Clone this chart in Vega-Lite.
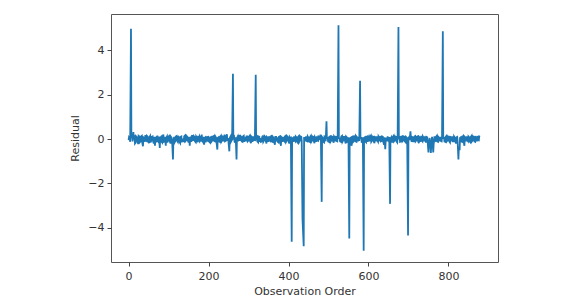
{
"$schema": "https://vega.github.io/schema/vega-lite/v6.json",
"width": 387, "height": 248,
"autosize": "none",
"padding": {"left": 111, "top": 14, "right": 76, "bottom": 43},
"background": "white",
"config": {"view": {"stroke": "#555", "strokeWidth": 1}, "font": "DejaVu Sans"},
"datasets": {
"main": [
{"i":0,"r":-0.05},{"i":3,"r":0.02},{"i":6,"r":4.98},{"i":9,"r":0.05},{"i":12,"r":0.32},{"i":15,"r":0.1},{"i":18,"r":-0.15},{"i":21,"r":0.08},{"i":24,"r":-0.22},{"i":27,"r":0.12},
{"i":30,"r":-0.1},{"i":33,"r":0.15},{"i":36,"r":-0.32},{"i":39,"r":0.05},{"i":42,"r":0.18},{"i":45,"r":-0.08},{"i":48,"r":0.1},{"i":51,"r":-0.18},{"i":54,"r":0.14},{"i":57,"r":-0.05},
{"i":60,"r":0.12},{"i":63,"r":-0.2},{"i":66,"r":-0.3},{"i":69,"r":0.08},{"i":72,"r":0.16},{"i":75,"r":-0.12},{"i":78,"r":-0.4},{"i":81,"r":0.1},{"i":84,"r":-0.15},{"i":87,"r":0.2},
{"i":90,"r":-0.1},{"i":93,"r":-0.3},{"i":96,"r":0.12},{"i":99,"r":-0.05},{"i":102,"r":0.15},{"i":105,"r":-0.2},{"i":108,"r":0.05},{"i":111,"r":-0.92},{"i":114,"r":0.1},{"i":117,"r":-0.08},
{"i":120,"r":0.14},{"i":123,"r":-0.12},{"i":126,"r":0.06},{"i":129,"r":-0.18},{"i":132,"r":0.12},{"i":135,"r":0.02},{"i":138,"r":-0.1},{"i":141,"r":0.16},{"i":144,"r":-0.06},{"i":147,"r":0.1},
{"i":150,"r":-0.15},{"i":153,"r":-0.3},{"i":156,"r":0.08},{"i":159,"r":0.18},{"i":162,"r":-0.05},{"i":165,"r":0.1},{"i":168,"r":-0.14},{"i":171,"r":0.06},{"i":174,"r":0.15},{"i":177,"r":-0.1},
{"i":180,"r":0.05},{"i":183,"r":0.2},{"i":186,"r":-0.12},{"i":189,"r":-0.25},{"i":192,"r":0.08},{"i":195,"r":0.12},{"i":198,"r":-0.08},{"i":201,"r":0.04},{"i":204,"r":-0.16},{"i":207,"r":0.1},
{"i":210,"r":-0.05},{"i":213,"r":0.14},{"i":216,"r":-0.1},{"i":219,"r":0.06},{"i":222,"r":-0.47},{"i":225,"r":0.08},{"i":228,"r":-0.12},{"i":231,"r":0.15},{"i":234,"r":-0.06},{"i":237,"r":0.1},
{"i":240,"r":0.2},{"i":243,"r":-0.08},{"i":246,"r":0.22},{"i":249,"r":0.05},{"i":252,"r":-0.55},{"i":255,"r":0.12},{"i":258,"r":-0.05},{"i":261,"r":2.95},{"i":264,"r":0.1},{"i":267,"r":-0.15},
{"i":270,"r":-0.92},{"i":273,"r":0.12},{"i":276,"r":0.18},{"i":279,"r":-0.05},{"i":282,"r":0.1},{"i":285,"r":-0.12},{"i":288,"r":0.15},{"i":291,"r":0.02},{"i":294,"r":-0.1},{"i":297,"r":0.12},
{"i":300,"r":-0.06},{"i":303,"r":0.15},{"i":306,"r":-0.18},{"i":309,"r":0.08},{"i":312,"r":0.12},{"i":315,"r":-0.04},{"i":318,"r":2.9},{"i":321,"r":0.08},{"i":324,"r":-0.14},{"i":327,"r":0.1},
{"i":330,"r":0.05},{"i":333,"r":-0.1},{"i":336,"r":0.16},{"i":339,"r":-0.05},{"i":342,"r":0.1},{"i":345,"r":-0.2},{"i":348,"r":0.06},{"i":351,"r":0.12},{"i":354,"r":-0.08},{"i":357,"r":0.14},
{"i":360,"r":-0.12},{"i":363,"r":0.05},{"i":366,"r":-0.25},{"i":369,"r":0.1},{"i":372,"r":0.08},{"i":375,"r":-0.15},{"i":378,"r":0.12},{"i":381,"r":-0.3},{"i":384,"r":0.06},{"i":387,"r":0.1},
{"i":390,"r":-0.1},{"i":393,"r":0.15},{"i":396,"r":-0.05},{"i":399,"r":0.08},{"i":402,"r":-0.2},{"i":405,"r":0.05},{"i":408,"r":-4.63},{"i":411,"r":0.02},{"i":414,"r":0.12},{"i":417,"r":-0.1},
{"i":420,"r":0.08},{"i":423,"r":-0.15},{"i":426,"r":0.14},{"i":429,"r":-0.05},{"i":432,"r":0.1},{"i":435,"r":-3.6},{"i":438,"r":-4.83},{"i":441,"r":0.05},{"i":444,"r":0.12},{"i":447,"r":-0.1},
{"i":450,"r":0.06},{"i":453,"r":-0.12},{"i":456,"r":0.15},{"i":459,"r":-0.06},{"i":462,"r":0.1},{"i":465,"r":-0.18},{"i":468,"r":0.04},{"i":471,"r":0.12},{"i":474,"r":-0.08},{"i":477,"r":0.1},
{"i":480,"r":0.2},{"i":483,"r":-2.83},{"i":486,"r":0.05},{"i":489,"r":-0.15},{"i":492,"r":0.1},{"i":495,"r":0.8},{"i":498,"r":0.05},{"i":501,"r":-0.12},{"i":504,"r":0.12},{"i":507,"r":-0.06},
{"i":510,"r":0.1},{"i":513,"r":-0.16},{"i":516,"r":0.06},{"i":519,"r":0.14},{"i":522,"r":-0.1},{"i":525,"r":5.13},{"i":528,"r":0.04},{"i":531,"r":-0.12},{"i":534,"r":0.15},{"i":537,"r":-0.05},
{"i":540,"r":0.1},{"i":543,"r":-0.2},{"i":546,"r":0.08},{"i":549,"r":-0.1},{"i":552,"r":-4.48},{"i":555,"r":0.05},{"i":558,"r":-0.3},{"i":561,"r":0.12},{"i":564,"r":-0.08},{"i":567,"r":0.15},
{"i":570,"r":-0.12},{"i":573,"r":0.06},{"i":576,"r":0.1},{"i":579,"r":2.63},{"i":582,"r":0.05},{"i":585,"r":-0.1},{"i":588,"r":-5.03},{"i":591,"r":0.08},{"i":594,"r":-0.14},{"i":597,"r":0.12},
{"i":600,"r":0.05},{"i":603,"r":-0.1},{"i":606,"r":0.16},{"i":609,"r":-0.06},{"i":612,"r":0.1},{"i":615,"r":-0.18},{"i":618,"r":0.08},{"i":621,"r":0.12},{"i":624,"r":-0.12},{"i":627,"r":0.05},
{"i":630,"r":0.14},{"i":633,"r":-0.08},{"i":636,"r":0.1},{"i":639,"r":-0.25},{"i":642,"r":-0.45},{"i":645,"r":0.06},{"i":648,"r":0.12},{"i":651,"r":-0.1},{"i":654,"r":-2.92},{"i":657,"r":0.08},
{"i":660,"r":-0.12},{"i":663,"r":0.15},{"i":666,"r":-0.05},{"i":669,"r":0.1},{"i":672,"r":-0.15},{"i":675,"r":5.05},{"i":678,"r":0.08},{"i":681,"r":-0.1},{"i":684,"r":0.12},{"i":687,"r":-0.06},
{"i":690,"r":0.1},{"i":693,"r":-0.14},{"i":696,"r":0.06},{"i":699,"r":-4.35},{"i":702,"r":0.1},{"i":705,"r":0.35},{"i":708,"r":-0.12},{"i":711,"r":0.08},{"i":714,"r":-0.1},{"i":717,"r":0.14},
{"i":720,"r":-0.05},{"i":723,"r":0.12},{"i":726,"r":-0.18},{"i":729,"r":0.06},{"i":732,"r":0.15},{"i":735,"r":-0.1},{"i":738,"r":0.05},{"i":741,"r":0.12},{"i":744,"r":-0.15},{"i":747,"r":0.08},
{"i":750,"r":-0.6},{"i":753,"r":0.05},{"i":756,"r":-0.62},{"i":759,"r":0.1},{"i":762,"r":-0.6},{"i":765,"r":0.12},{"i":768,"r":-0.08},{"i":771,"r":0.15},{"i":774,"r":-0.12},{"i":777,"r":0.06},
{"i":780,"r":0.1},{"i":783,"r":-0.1},{"i":786,"r":4.86},{"i":789,"r":0.05},{"i":792,"r":-0.12},{"i":795,"r":0.14},{"i":798,"r":-0.05},{"i":801,"r":0.1},{"i":804,"r":-0.15},{"i":807,"r":0.08},
{"i":810,"r":0.12},{"i":813,"r":-0.1},{"i":816,"r":0.06},{"i":819,"r":-0.2},{"i":822,"r":0.1},{"i":825,"r":-0.92},{"i":828,"r":-0.5},{"i":831,"r":0.08},{"i":834,"r":-0.12},{"i":837,"r":0.14},
{"i":840,"r":-0.3},{"i":843,"r":0.06},{"i":846,"r":0.12},{"i":849,"r":-0.1},{"i":852,"r":0.08},{"i":855,"r":-0.14},{"i":858,"r":0.15},{"i":861,"r":-0.05},{"i":864,"r":0.1},{"i":867,"r":-0.12},
{"i":870,"r":0.08},{"i":873,"r":0.14},{"i":876,"r":-0.06},{"i":879,"r":0.1},
{"i":1,"r":0.08},{"i":4,"r":-0.12},{"i":7,"r":0.1},{"i":10,"r":-0.1},{"i":13,"r":0.05},{"i":16,"r":-0.2},{"i":19,"r":0.12},{"i":22,"r":-0.05},{"i":25,"r":0.15},{"i":28,"r":-0.14},
{"i":31,"r":0.12},{"i":34,"r":-0.15},{"i":37,"r":0.08},{"i":40,"r":-0.12},{"i":43,"r":-0.05},{"i":46,"r":0.14},{"i":49,"r":-0.1},{"i":52,"r":0.08},{"i":55,"r":-0.15},{"i":58,"r":0.1},
{"i":61,"r":-0.08},{"i":64,"r":0.1},{"i":67,"r":0.05},{"i":70,"r":-0.15},{"i":73,"r":-0.05},{"i":76,"r":0.12},{"i":79,"r":0.05},{"i":82,"r":-0.1},{"i":85,"r":0.12},{"i":88,"r":-0.12},
{"i":91,"r":0.1},{"i":94,"r":0.05},{"i":97,"r":-0.15},{"i":100,"r":0.12},{"i":103,"r":-0.1},{"i":106,"r":0.1},{"i":109,"r":-0.12},{"i":112,"r":-0.1},{"i":115,"r":-0.15},{"i":118,"r":0.12},
{"i":121,"r":-0.06},{"i":124,"r":0.15},{"i":127,"r":-0.12},{"i":130,"r":0.1},{"i":133,"r":-0.14},{"i":136,"r":-0.08},{"i":139,"r":0.12},{"i":142,"r":-0.1},{"i":145,"r":0.14},{"i":148,"r":-0.05},
{"i":151,"r":0.1},{"i":154,"r":0.02},{"i":157,"r":-0.12},{"i":160,"r":-0.05},{"i":163,"r":0.14},{"i":166,"r":-0.1},{"i":169,"r":0.12},{"i":172,"r":-0.15},{"i":175,"r":-0.05},{"i":178,"r":0.12},
{"i":181,"r":-0.12},{"i":184,"r":-0.05},{"i":187,"r":0.1},{"i":190,"r":0.05},{"i":193,"r":-0.15},{"i":196,"r":-0.06},{"i":199,"r":0.14},{"i":202,"r":-0.12},{"i":205,"r":0.08},{"i":208,"r":-0.1},
{"i":211,"r":0.12},{"i":214,"r":-0.08},{"i":217,"r":0.12},{"i":220,"r":-0.15},{"i":223,"r":0.05},{"i":226,"r":-0.1},{"i":229,"r":0.1},{"i":232,"r":-0.12},{"i":235,"r":0.12},{"i":238,"r":-0.1},
{"i":241,"r":-0.1},{"i":244,"r":0.12},{"i":247,"r":-0.08},{"i":250,"r":-0.15},{"i":253,"r":0.05},{"i":256,"r":-0.12},{"i":259,"r":0.08},{"i":262,"r":0.05},{"i":265,"r":-0.12},{"i":268,"r":0.08},
{"i":271,"r":0.05},{"i":274,"r":-0.1},{"i":277,"r":-0.05},{"i":280,"r":0.14},{"i":283,"r":-0.1},{"i":286,"r":0.12},{"i":289,"r":-0.12},{"i":292,"r":0.1},{"i":295,"r":0.12},{"i":298,"r":-0.1},
{"i":301,"r":0.1},{"i":304,"r":-0.1},{"i":307,"r":0.12},{"i":310,"r":-0.12},{"i":313,"r":-0.05},{"i":316,"r":0.1},{"i":319,"r":0.02},{"i":322,"r":-0.1},{"i":325,"r":0.12},{"i":328,"r":-0.12},
{"i":331,"r":-0.12},{"i":334,"r":0.08},{"i":337,"r":-0.12},{"i":340,"r":0.14},{"i":343,"r":-0.08},{"i":346,"r":0.1},{"i":349,"r":-0.12},{"i":352,"r":-0.05},{"i":355,"r":0.12},{"i":358,"r":-0.1},
{"i":361,"r":0.1},{"i":364,"r":-0.12},{"i":367,"r":0.1},{"i":370,"r":-0.1},{"i":373,"r":-0.12},{"i":376,"r":0.1},{"i":379,"r":-0.08},{"i":382,"r":0.1},{"i":385,"r":-0.12},{"i":388,"r":-0.05},
{"i":391,"r":0.12},{"i":394,"r":-0.12},{"i":397,"r":0.12},{"i":400,"r":-0.1},{"i":403,"r":0.1},{"i":406,"r":-0.08},{"i":409,"r":0.05},{"i":412,"r":-0.12},{"i":415,"r":-0.05},{"i":418,"r":0.12},
{"i":421,"r":-0.1},{"i":424,"r":0.1},{"i":427,"r":-0.12},{"i":430,"r":0.12},{"i":433,"r":-0.08},{"i":439,"r":0.05},{"i":442,"r":-0.1},{"i":445,"r":-0.08},{"i":448,"r":0.12},
{"i":451,"r":-0.1},{"i":454,"r":0.1},{"i":457,"r":-0.12},{"i":460,"r":0.12},{"i":463,"r":-0.08},{"i":466,"r":0.1},{"i":469,"r":-0.12},{"i":472,"r":-0.06},{"i":475,"r":0.12},{"i":478,"r":-0.05},
{"i":481,"r":0.05},{"i":484,"r":0.1},{"i":487,"r":-0.12},{"i":490,"r":0.12},{"i":493,"r":-0.1},{"i":496,"r":0.05},{"i":499,"r":-0.1},{"i":502,"r":0.1},{"i":505,"r":-0.12},{"i":508,"r":0.12},
{"i":511,"r":-0.08},{"i":514,"r":0.12},{"i":517,"r":-0.1},{"i":520,"r":-0.08},{"i":523,"r":0.1},{"i":526,"r":0.05},{"i":529,"r":-0.1},{"i":532,"r":0.12},{"i":535,"r":-0.12},{"i":538,"r":0.1},
{"i":541,"r":-0.05},{"i":544,"r":0.12},{"i":547,"r":-0.12},{"i":550,"r":0.08},{"i":553,"r":0.02},{"i":556,"r":-0.1},{"i":559,"r":0.1},{"i":562,"r":-0.12},{"i":565,"r":0.1},{"i":568,"r":-0.1},
{"i":571,"r":0.1},{"i":574,"r":-0.1},{"i":577,"r":-0.08},{"i":580,"r":0.05},{"i":583,"r":-0.12},{"i":586,"r":0.08},{"i":589,"r":0.05},{"i":592,"r":-0.1},{"i":595,"r":0.1},{"i":598,"r":-0.12},
{"i":601,"r":0.1},{"i":604,"r":0.12},{"i":607,"r":-0.12},{"i":610,"r":0.12},{"i":613,"r":-0.1},{"i":616,"r":0.1},{"i":619,"r":-0.1},{"i":622,"r":-0.06},{"i":625,"r":0.12},{"i":628,"r":-0.1},
{"i":631,"r":-0.1},{"i":634,"r":0.12},{"i":637,"r":-0.12},{"i":640,"r":0.08},{"i":643,"r":-0.1},{"i":646,"r":-0.1},{"i":649,"r":-0.05},{"i":652,"r":0.1},{"i":655,"r":0.02},{"i":658,"r":-0.12},
{"i":661,"r":0.1},{"i":664,"r":-0.1},{"i":667,"r":0.12},{"i":670,"r":-0.1},{"i":673,"r":0.05},{"i":676,"r":0.05},{"i":679,"r":-0.12},{"i":682,"r":0.1},{"i":685,"r":-0.1},{"i":688,"r":0.12},
{"i":691,"r":-0.1},{"i":694,"r":0.1},{"i":697,"r":-0.1},{"i":700,"r":0.05},{"i":703,"r":-0.05},{"i":706,"r":0.1},{"i":709,"r":0.1},{"i":712,"r":-0.1},{"i":715,"r":0.12},{"i":718,"r":-0.1},
{"i":721,"r":0.1},{"i":724,"r":-0.1},{"i":727,"r":0.1},{"i":730,"r":-0.12},{"i":733,"r":-0.05},{"i":736,"r":0.12},{"i":739,"r":-0.1},{"i":742,"r":-0.05},{"i":745,"r":0.1},{"i":748,"r":-0.1},
{"i":751,"r":-0.2},{"i":754,"r":-0.1},{"i":757,"r":-0.3},{"i":760,"r":-0.05},{"i":763,"r":-0.25},{"i":766,"r":-0.1},{"i":769,"r":0.1},{"i":772,"r":-0.1},{"i":775,"r":0.1},{"i":778,"r":-0.1},
{"i":781,"r":-0.08},{"i":784,"r":0.1},{"i":787,"r":0.05},{"i":790,"r":-0.1},{"i":793,"r":0.1},{"i":796,"r":-0.1},{"i":799,"r":0.12},{"i":802,"r":-0.1},{"i":805,"r":0.1},{"i":808,"r":-0.1},
{"i":811,"r":-0.1},{"i":814,"r":0.12},{"i":817,"r":-0.1},{"i":820,"r":0.08},{"i":823,"r":-0.1},{"i":826,"r":-0.4},{"i":829,"r":0.05},{"i":832,"r":-0.1},{"i":835,"r":0.1},{"i":838,"r":-0.1},
{"i":841,"r":0.1},{"i":844,"r":-0.1},{"i":847,"r":-0.05},{"i":850,"r":0.12},{"i":853,"r":-0.1},{"i":856,"r":0.1},{"i":859,"r":-0.1},{"i":862,"r":0.12},{"i":865,"r":-0.1},{"i":868,"r":0.1},
{"i":871,"r":-0.1},{"i":874,"r":-0.05},{"i":877,"r":0.12}
]},
"data": {"name": "main"},
"mark": {"type": "line", "color": "#1f77b4", "strokeWidth": 1.8, "clip": true},
"encoding": {
  "x": {"field": "i", "type": "quantitative",
    "scale": {"domain": [-44, 924], "nice": false, "zero": false},
    "axis": {"values": [0, 200, 400, 600, 800], "title": "Observation Order", "grid": false, "domain": false,
      "tickColor": "#444", "tickSize": 4, "labelFontSize": 11, "labelColor": "#333", "labelPadding": 4,
      "titleFontSize": 11, "titleFontWeight": "normal", "titleColor": "#333", "titlePadding": 4}},
  "y": {"field": "r", "type": "quantitative",
    "scale": {"domain": [-5.54, 5.64], "nice": false, "zero": false},
    "axis": {"values": [-4, -2, 0, 2, 4], "title": "Residual", "grid": false, "domain": false,
      "tickColor": "#444", "tickSize": 4, "labelFontSize": 11, "labelColor": "#333", "labelPadding": 3,
      "titleFontSize": 11, "titleFontWeight": "normal", "titleColor": "#333", "titlePadding": 7}}
}
}
